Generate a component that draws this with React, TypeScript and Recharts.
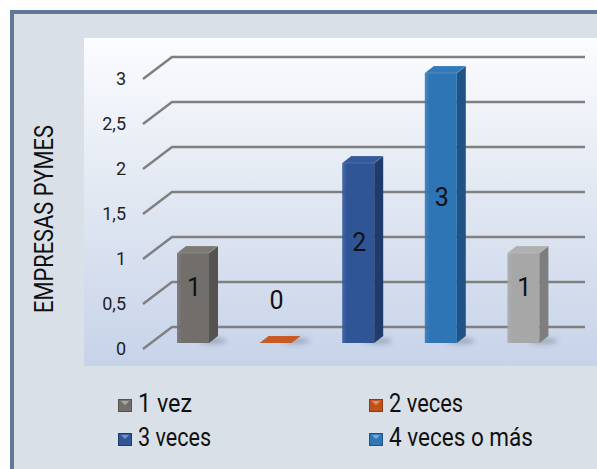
import React from 'react';
import { BarChart, Bar, XAxis, YAxis, CartesianGrid, LabelList, Label } from 'recharts';

// datos del gráfico
const categories = ['1 vez', '2 veces', '3 veces', '4 veces o más', ''];
const values = [1, 0, 2, 3, 1];
const yTicks = [0, 0.5, 1, 1.5, 2, 2.5, 3];
const axisTitle = 'EMPRESAS PYMES';

const frontColors = ['#726e6b', '#c0501c', '#2f5597', '#2e75b6', '#a7a7a7'];
const sideColors = ['#55524f', '#8f3a12', '#1f3a6b', '#1f5386', '#7e7e7e'];
const topColors = ['#7d7976', '#c85a26', '#36599a', '#3479b8', '#b0b0b0'];

const data = categories.map((name, i) => ({ name, value: values[i], idx: i }));

const FONT = 'Roboto, "Noto Sans", sans-serif';
const LIFT = 6; // bars sit a bit behind the front plane
const DX = 9;
const DY = 7;

function Bar3D(props: any) {
  const { x, y, width, height, payload } = props;
  const i = payload.idx;
  const yt = y - LIFT;
  const yb = y + height - LIFT;
  const w = width;
  return (
    <g>
      <ellipse cx={x + w + 4} cy={yb - 2} rx={14} ry={3} fill="rgba(70,80,100,0.35)" filter="url(#barShadow)" />
      {height > 0 && <rect x={x} y={yt} width={w} height={height} fill={`url(#front${i})`} />}
      {height > 0 && (
        <path d={`M${x + w},${yt} L${x + w + DX},${yt - DY} L${x + w + DX},${yb - DY} L${x + w},${yb} Z`} fill={sideColors[i]} />
      )}
      <path
        d={`M${x},${yt} L${x + DX},${yt - DY} L${x + w + DX},${yt - DY} L${x + w},${yt} Z`}
        fill={topColors[i]}
        stroke={height > 0 ? 'rgba(255,255,255,0.15)' : 'none'}
      />
    </g>
  );
}

function BarValue(props: any) {
  const { x, y, width, height, value } = props;
  const yt = y - LIFT;
  const yb = y + height - LIFT;
  const cy = value === 0 ? yb - 43 : yt + height / 2 - 11;
  return (
    <text x={x + width / 2 + 1} y={cy} dy="0.36em" textAnchor="middle" fontFamily={FONT} fontSize={25} fill="#111">
      {String(value).replace('.', ',')}
    </text>
  );
}

function GridLine(props: any) {
  const { x1, x2, y1 } = props;
  return (
    <path
      key={props.key}
      d={`M${x1 - 9},${y1} L${x1 + 20},${y1 - 22} L${x2 + 20},${y1 - 22}`}
      fill="none"
      stroke="#808080"
      strokeWidth={2.5}
    />
  );
}

function AxisTick(props: any) {
  const { x, y, payload } = props;
  return (
    <text x={x} y={y} dy="0.36em" textAnchor="end" fontFamily={FONT} fontSize={18} fill="#222">
      {String(payload.value).replace('.', ',')}
    </text>
  );
}

function AxisTitle(props: any) {
  const vb = props.viewBox;
  const cx = vb.x + 53;
  const cy = vb.y + vb.height / 2 + 5;
  return (
    <text
      x={cx}
      y={cy}
      transform={`rotate(-90 ${cx} ${cy})`}
      textAnchor="middle"
      fontFamily={FONT}
      fontSize={25}
      fill="#111"
      textLength={188}
      lengthAdjust="spacingAndGlyphs"
    >
      {axisTitle}
    </text>
  );
}

const legendItems = categories.map((name, i) => ({ name, i })).filter((d) => d.name !== '');
const legendWidths = [54, 74, 73, 144];

function LegendBox() {
  return (
    <svg width={597} height={469} style={{ position: 'absolute', left: 0, top: 0, pointerEvents: 'none' }}>
      {legendItems.map((it, k) => {
        const col = k % 2;
        const row = Math.floor(k / 2);
        const ix = col === 0 ? 118 : 369;
        const iy = row === 0 ? 399 : 433;
        return (
          <g key={it.name}>
            <rect x={ix} y={iy} width={14} height={13} fill={sideColors[it.i]} />
            <rect x={ix + 1} y={iy + 1} width={12} height={11} fill={frontColors[it.i]} />
            <path d={`M${ix + 1},${iy + 1} L${ix + 13},${iy + 1} L${ix + 7},${iy + 7} Z`} fill={topColors[it.i]} opacity={0.9} />
            <path d={`M${ix + 3},${iy + 2} L${ix + 11},${iy + 2} L${ix + 7},${iy + 6} Z`} fill="rgba(255,255,255,0.35)" />
            <text
              x={ix + 20}
              y={iy + 13}
              fontFamily={FONT}
              fontSize={26}
              fill="#111"
              textLength={legendWidths[k]}
              lengthAdjust="spacingAndGlyphs"
            >
              {it.name}
            </text>
          </g>
        );
      })}
    </svg>
  );
}

export default function App() {
  return (
    <div style={{ position: 'absolute', left: 0, top: 0, width: 597, height: 469, background: '#fff', overflow: 'hidden' }}>
      <div
        style={{
          position: 'absolute',
          left: 10,
          top: 10,
          width: 620,
          height: 490,
          background: '#dae0e8',
          borderLeft: '4px solid #5f7895',
          borderTop: '4px solid #5f7895',
          boxSizing: 'border-box',
        }}
      />
      <div
        style={{
          position: 'absolute',
          left: 84,
          top: 38,
          width: 513,
          height: 328,
          background: 'linear-gradient(to bottom, #fbfcfe 0%, #e3e9f3 45%, #c7d3e9 100%)',
        }}
      />
      <div style={{ position: 'absolute', left: 0, top: 0 }}>
        <BarChart width={597} height={469} data={data} margin={{ top: 79, right: 32, bottom: 120, left: 0 }}>
          <defs>
            <filter id="barShadow" x="-50%" y="-200%" width="200%" height="500%">
              <feGaussianBlur stdDeviation="2.5" />
            </filter>
            {frontColors.map((c, i) => (
              <linearGradient key={i} id={`front${i}`} x1="0" y1="0" x2="1" y2="0">
                <stop offset="0%" stopColor={c} stopOpacity={0.85} />
                <stop offset="15%" stopColor={c} />
                <stop offset="100%" stopColor={c} />
              </linearGradient>
            ))}
          </defs>
          <CartesianGrid vertical={false} horizontal={GridLine as any} />
          <XAxis dataKey="name" hide />
          <YAxis
            width={152}
            domain={[0, 3]}
            ticks={yTicks}
            axisLine={false}
            tickLine={false}
            tickMargin={20}
            tick={AxisTick}
            interval={0}
          >
            <Label content={AxisTitle} />
          </YAxis>
          <Bar dataKey="value" barSize={32} shape={Bar3D} isAnimationActive={false}>
            <LabelList dataKey="value" content={BarValue} />
          </Bar>
        </BarChart>
      </div>
      <LegendBox />
    </div>
  );
}
